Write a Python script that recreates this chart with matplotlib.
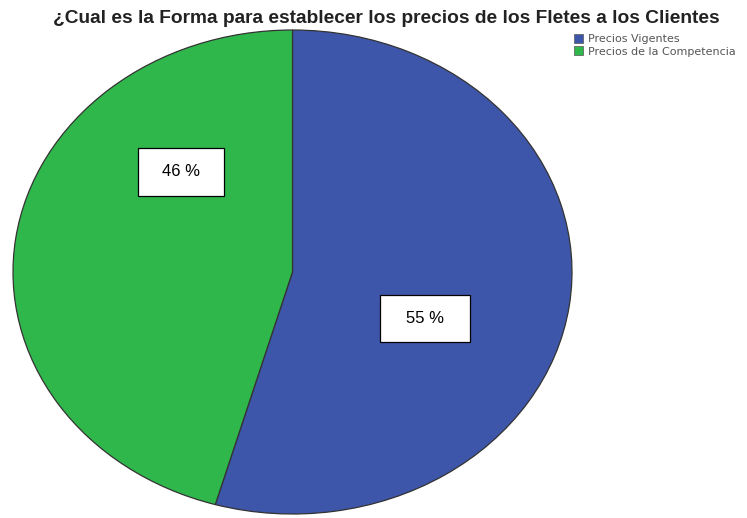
import matplotlib
matplotlib.use("Agg")
import matplotlib.pyplot as plt
from matplotlib.patches import Rectangle, Patch

categories = ["Precios Vigentes", "Precios de la Competencia"]
percentages = [55, 46]
colors = ["#3e56a9", "#2fb74b"]
title = "¿Cual es la Forma para establecer los precios de los Fletes a los Clientes"

W, H = 747, 518
fig = plt.figure(figsize=(W / 100, H / 100), dpi=100)
plt.rcParams["font.family"] = ["Liberation Sans", "DejaVu Sans"]

# axes spanning the elliptical pie
left, right, top, bottom = 13, 572, 30, 514
ax = fig.add_axes([left / W, (H - bottom) / H, (right - left) / W, (bottom - top) / H])
wedges, _ = ax.pie(percentages, colors=colors, startangle=90, counterclock=False,
                   wedgeprops=dict(edgecolor="#333333", linewidth=0.9))
ax.set_aspect("auto")
ax.set_xlim(-1, 1)
ax.set_ylim(-1, 1)
ax.axis("off")

# value boxes (pixel boxes: x0, y0, x1, y1)
boxes = [(380, 295, 470, 342), (138, 148, 224, 196)]
for (x0, y0, x1, y1), val in zip(boxes, percentages):
    fig.patches.append(Rectangle((x0 / W, (H - y1) / H), (x1 - x0) / W, (y1 - y0) / H,
                                 transform=fig.transFigure, facecolor="white",
                                 edgecolor="black", linewidth=0.9, zorder=5))
    fig.text((x0 + x1) / 2 / W, 1 - (y0 + y1) / 2 / H, f"{val} %", ha="center",
             va="center", fontsize=12, zorder=6)

fig.text(386 / W, 1 - 23 / H, title, ha="center", va="baseline", fontsize=13.8,
         fontweight="bold", color="#222222")

handles = [Patch(facecolor=c, edgecolor="#555555", linewidth=0.5) for c in colors]
fig.legend(handles, categories, loc="upper left", bbox_to_anchor=(574 / W, 1 - 34 / H),
           frameon=False, handlelength=0.85, handleheight=0.85,
           handletextpad=0.4, labelspacing=0.2, borderpad=0, borderaxespad=0,
           labelcolor="#555555", prop={"family": "DejaVu Sans", "size": 8})

fig.savefig("out.png", dpi=100)
